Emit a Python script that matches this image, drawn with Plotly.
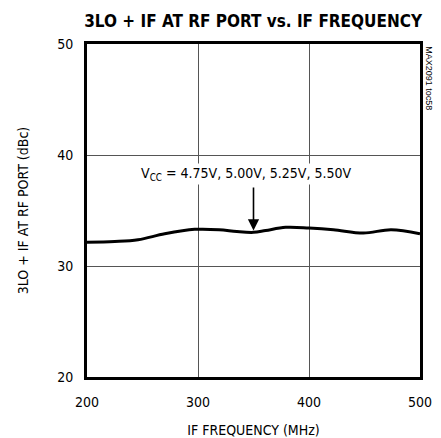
import plotly.graph_objects as go

freq_mhz = [200, 225, 246, 270, 297, 319, 335, 350, 361, 379, 400, 422, 449, 474, 500]
level_dbc = [32.13, 32.2, 32.36, 32.9, 33.3, 33.27, 33.1, 33.03, 33.2, 33.48, 33.42, 33.27, 32.97, 33.27, 32.9]

x_ticks = [200, 300, 400, 500]
y_ticks = [20, 30, 40, 50]

FONT = "Liberation Sans Narrow, DejaVu Sans Condensed, Arial Narrow, sans-serif"

fig = go.Figure()
fig.add_trace(go.Scatter(x=freq_mhz, y=level_dbc, mode="lines",
                         line=dict(color="black", width=3, shape="spline", smoothing=1.0),
                         showlegend=False, hoverinfo="skip"))

fig.update_layout(
    width=441, height=438,
    margin=dict(l=87, r=21, t=44, b=61, autoexpand=False),
    paper_bgcolor="white", plot_bgcolor="white",
    font=dict(family=FONT, size=14, color="black"),
    title=dict(text="<b>3LO + IF AT RF PORT vs. IF FREQUENCY</b>",
               x=0.574, xanchor="center", y=0.952, yanchor="middle",
               font=dict(family=FONT, size=17, color="black")),
    xaxis=dict(range=[200, 500], tickvals=x_ticks, ticks="", showgrid=True,
               gridcolor="#555555", gridwidth=1.3, zeroline=False,
               showline=True, linecolor="black", linewidth=3, mirror=True,
               ticklabelstandoff=10, automargin=False,
               title=dict(text="IF FREQUENCY (MHz)", standoff=20, font=dict(size=14)),
               tickfont=dict(size=14)),
    yaxis=dict(range=[20, 50], tickvals=y_ticks, ticks="", showgrid=True,
               gridcolor="#555555", gridwidth=1.3, zeroline=False,
               showline=True, linecolor="black", linewidth=3, mirror=True,
               ticklabelstandoff=8, automargin=False,
               title=dict(text="3LO + IF AT RF PORT (dBc)", standoff=26, font=dict(size=14)),
               tickfont=dict(size=14)),
)

fig.add_annotation(x=343, y=38.3, xref="x", yref="y",
                   text="V<sub>CC</sub> = 4.75V, 5.00V, 5.25V, 5.50V",
                   showarrow=False, font=dict(size=14, color="black"),
                   bgcolor="white")
fig.add_annotation(x=350, y=33.2, xref="x", yref="y", ax=350, ay=37.2,
                   axref="x", ayref="y", text="", showarrow=True,
                   arrowhead=2, arrowsize=1.4, arrowwidth=1.6, arrowcolor="black")
fig.add_annotation(x=1.005, y=1.0, xref="paper", yref="paper",
                   text="MAX2091 toc58", textangle=90, showarrow=False,
                   xanchor="left", yanchor="top",
                   font=dict(family="Liberation Sans Narrow, Arial Narrow, sans-serif", size=9, color="black"))

fig.write_html("out.html", config={"displayModeBar": False})

with open("out.html", "r", encoding="utf-8") as f:
    html = f.read()
html = html.replace("<head>", "<head><style>html,body{margin:0;padding:0;}</style>", 1)
with open("out.html", "w", encoding="utf-8") as f:
    f.write(html)
